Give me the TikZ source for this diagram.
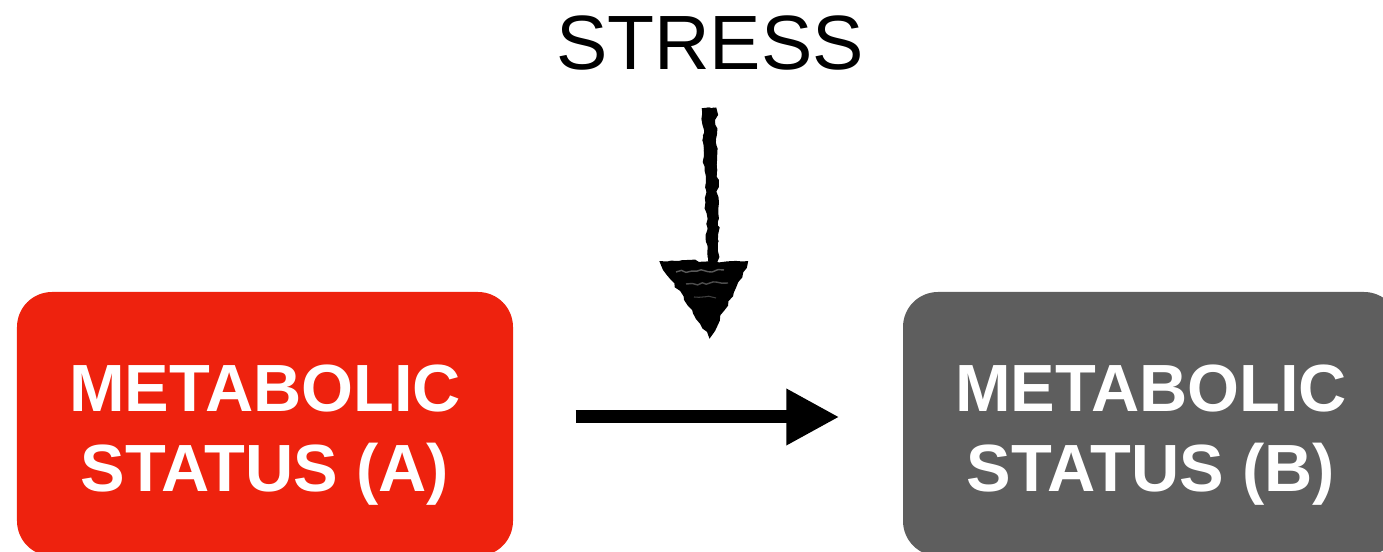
\documentclass[tikz,border=0pt]{standalone}
\usepackage{fontspec}
\setmainfont{Liberation Sans}
\usetikzlibrary{arrows.meta,decorations.pathmorphing}
\definecolor{statusred}{RGB}{238,34,14}
\definecolor{statusgray}{RGB}{94,94,94}
\tikzset{
  statusbox/.style={rounded corners=0.35cm, minimum width=4.96cm, minimum height=2.64cm, inner sep=0pt},
  statustext/.style={text=white, align=center, inner sep=0pt,
    font=\fontsize{19}{22.8}\selectfont\bfseries},
  flow/.style={line width=0.13cm, -{Triangle[length=0.53cm,width=0.53cm]}},
  scribble/.style={decorate, decoration={random steps, segment length=1.5pt, amplitude=0.45pt}}
}

\begin{document}
\begin{tikzpicture}
\clip (0,0) rectangle (13.83,5.52);
\pgfmathsetseed{7}

\node[statusbox, fill=statusred] (statA) at (2.65,1.28) {};
\node[statusbox, fill=statusgray] (statB) at (11.51,1.28) {};
\node[statustext] (labA) at ([yshift=-0.11cm]statA.center) {METABOLIC\\STATUS (A)};
\node[statustext] (labB) at ([yshift=-0.11cm]statB.center) {METABOLIC\\STATUS (B)};
\node[inner sep=0pt, font=\fontsize{21.9}{24}\selectfont] (stress) at (7.10,5.09) {STRESS};

\draw[flow] ([shift={(0.62,0.07)}]statA.east) -- ([shift={(-0.63,0.07)}]statB.west);

% hand drawn arrow under the label
\coordinate (top) at ([yshift=-0.65cm]stress.center);
\foreach \dx in {-0.06,-0.04,...,0.06}
  \draw[scribble, line width=1.3pt] ([xshift=\dx cm]top) -- ([shift={(0.04+\dx*0.6,-1.57)}]top);
\filldraw[scribble, line width=1pt] (6.62,2.89) -- (7.46,2.89) -- (7.10,2.17) -- cycle;
\draw[scribble, white, line width=0.4pt, opacity=0.35] (6.76,2.80) -- (7.24,2.82);
\draw[scribble, white, line width=0.4pt, opacity=0.3] (6.86,2.68) -- (7.28,2.69);
\draw[scribble, white, line width=0.3pt, opacity=0.25] (6.94,2.55) -- (7.16,2.54);
\end{tikzpicture}
\end{document}
